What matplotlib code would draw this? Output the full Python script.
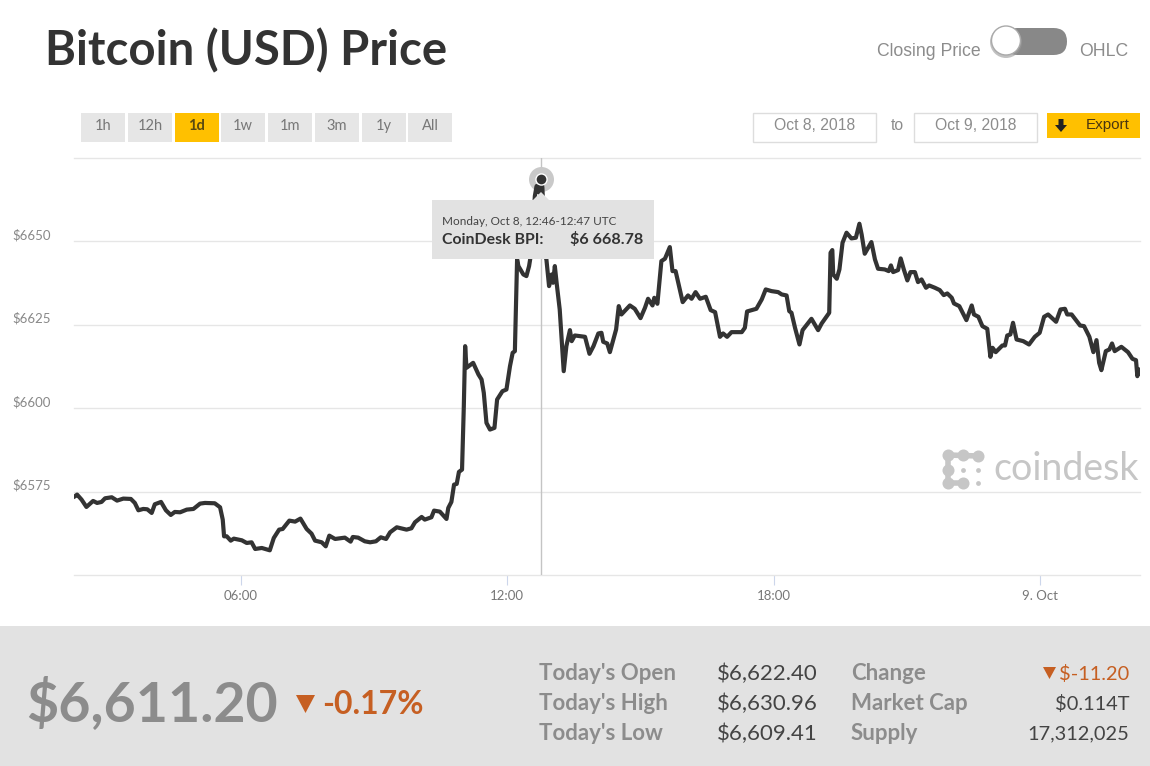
import matplotlib
matplotlib.use("Agg")
import matplotlib.pyplot as plt
from matplotlib.patches import Rectangle, FancyBboxPatch, Polygon, Circle

# hours since Oct 8 00:00 UTC
HOURS = [
    2.26, 2.31, 2.41, 2.52, 2.67, 2.76, 2.86, 2.94, 3.09, 3.21, 3.35, 3.52, 3.61, 3.69, 3.80, 3.89,
    3.99, 4.06, 4.20, 4.31, 4.42, 4.51, 4.63, 4.78, 4.93, 5.08, 5.19, 5.41, 5.53, 5.59, 5.62, 5.68,
    5.77, 5.84, 6.02, 6.13, 6.24, 6.32, 6.47, 6.65, 6.74, 6.86, 6.94, 7.09, 7.22, 7.34, 7.48, 7.59,
    7.67, 7.82, 7.91, 7.99, 8.12, 8.34, 8.47, 8.52, 8.64, 8.79, 8.91, 9.04, 9.15, 9.27, 9.36, 9.51,
    9.73, 9.84, 9.92, 10.07, 10.14, 10.29, 10.35, 10.48, 10.63, 10.67, 10.74, 10.80, 10.86, 10.91,
    10.98, 11.02, 11.05, 11.08, 11.23, 11.35, 11.42, 11.47, 11.53, 11.61, 11.71, 11.77, 11.89, 11.98,
    12.06, 12.12, 12.17, 12.21, 12.22, 12.25, 12.36, 12.43, 12.49, 12.52, 12.58, 12.62, 12.66, 12.72,
    12.76, 12.79, 12.85, 12.88, 12.94, 13.00, 13.03, 13.07, 13.11, 13.18, 13.27, 13.33, 13.41, 13.45,
    13.52, 13.75, 13.85, 13.94, 14.05, 14.12, 14.16, 14.25, 14.31, 14.45, 14.51, 14.57, 14.76, 14.87,
    15.00, 15.10, 15.17, 15.27, 15.31, 15.38, 15.47, 15.55, 15.66, 15.72, 15.79, 15.95, 16.07, 16.15,
    16.24, 16.34, 16.47, 16.58, 16.68, 16.79, 16.86, 16.95, 17.05, 17.28, 17.35, 17.40, 17.61, 17.73,
    17.82, 17.95, 18.10, 18.18, 18.29, 18.35, 18.40, 18.48, 18.58, 18.65, 18.85, 19.00, 19.08, 19.25,
    19.28, 19.32, 19.34, 19.42, 19.48, 19.55, 19.64, 19.75, 19.85, 19.93, 19.98, 20.05, 20.20, 20.28,
    20.35, 20.50, 20.59, 20.64, 20.69, 20.80, 20.86, 20.93, 21.01, 21.08, 21.18, 21.25, 21.33, 21.43,
    21.50, 21.63, 21.74, 21.83, 21.91, 22.01, 22.06, 22.18, 22.34, 22.46, 22.51, 22.61, 22.70, 22.81,
    22.88, 22.93, 23.00, 23.15, 23.21, 23.26, 23.33, 23.39, 23.47, 23.62, 23.75, 23.88, 23.99, 24.09,
    24.18, 24.36, 24.46, 24.56, 24.61, 24.71, 24.90, 24.99, 25.11, 25.20, 25.27, 25.33, 25.38, 25.48,
    25.56, 25.62, 25.68, 25.83, 25.98, 26.08, 26.16, 26.19, 26.23,
]
PRICES = [
    6573.6, 6574.1, 6572.6, 6570.4, 6572.2, 6571.6, 6571.9, 6573.0, 6573.3, 6572.3, 6572.9, 6572.8, 6571.6, 6569.4, 6569.8, 6569.7,
    6568.6, 6571.2, 6571.9, 6569.4, 6568.0, 6568.9, 6568.8, 6569.6, 6569.8, 6571.4, 6571.6, 6571.5, 6570.3, 6566.6, 6561.6, 6561.6,
    6560.3, 6560.9, 6560.4, 6559.6, 6559.8, 6557.8, 6558.1, 6557.4, 6561.1, 6563.6, 6563.8, 6566.3, 6566.0, 6566.9, 6563.8, 6562.4,
    6560.3, 6559.8, 6558.6, 6561.8, 6560.8, 6561.2, 6560.0, 6561.4, 6561.2, 6560.1, 6559.8, 6560.1, 6561.3, 6560.8, 6562.8, 6564.3,
    6563.6, 6564.0, 6565.8, 6567.4, 6566.6, 6567.3, 6569.3, 6569.0, 6566.8, 6570.1, 6571.9, 6577.1, 6577.3, 6580.9,
    6581.6, 6600.6, 6618.6, 6612.1, 6613.6, 6610.1, 6608.6, 6604.6, 6595.6, 6593.6, 6594.1, 6602.6, 6605.1, 6605.6,
    6612.6, 6616.6, 6617.1, 6639.6, 6644.6, 6642.6, 6640.1, 6639.6, 6642.6, 6645.1, 6654.6, 6663.6, 6666.6, 6664.6,
    6668.78, 6666.1, 6645.6, 6644.6, 6636.6, 6640.1, 6637.6, 6642.6, 6637.6, 6629.6, 6611.1, 6618.6, 6623.4, 6620.1,
    6621.8, 6621.4, 6616.3, 6618.6, 6622.4, 6622.6, 6619.9, 6619.4, 6616.8, 6623.6, 6630.6, 6628.1, 6630.8, 6629.8,
    6627.0, 6630.1, 6632.8, 6630.8, 6633.1, 6631.3, 6644.1, 6644.8, 6648.3, 6641.1, 6641.1, 6631.8, 6633.8, 6632.8,
    6634.8, 6632.8, 6633.4, 6629.4, 6628.8, 6621.4, 6622.4, 6621.4, 6622.8, 6622.8, 6624.1, 6629.0, 6629.8, 6632.6,
    6635.6, 6635.1, 6634.8, 6634.1, 6633.8, 6629.1, 6628.6, 6624.1, 6619.1, 6623.4, 6626.8, 6623.4, 6625.4, 6628.6,
    6646.6, 6647.4, 6640.1, 6638.8, 6641.6, 6649.6, 6652.6, 6650.9, 6651.1, 6655.3, 6652.1, 6646.3, 6649.8, 6644.6,
    6641.8, 6641.6, 6641.1, 6642.8, 6640.8, 6641.4, 6644.9, 6641.6, 6638.3, 6640.8, 6640.8, 6637.8, 6638.6, 6636.1,
    6636.8, 6636.1, 6635.4, 6633.9, 6634.4, 6633.1, 6631.4, 6630.6, 6626.4, 6630.8, 6628.1, 6627.4, 6624.6, 6623.8,
    6615.4, 6618.1, 6616.8, 6618.8, 6618.8, 6621.8, 6622.1, 6625.6, 6620.6, 6620.1, 6619.1, 6621.4, 6622.6, 6627.4,
    6628.1, 6625.9, 6629.6, 6629.8, 6628.1, 6628.1, 6624.8, 6624.6, 6621.4, 6616.8, 6620.4, 6613.6, 6611.4, 6617.1,
    6617.6, 6619.4, 6617.1, 6618.4, 6616.8, 6614.8, 6614.4, 6609.6, 6611.6,
]

Y_TICKS = [6550, 6575, 6600, 6625, 6650, 6675]
Y_LABELS = ["", "$6575", "$6600", "$6625", "$6650", ""]
X_TICKS = [6, 12, 18, 24]
X_LABELS = ["06:00", "12:00", "18:00", "9. Oct"]
RANGE_BUTTONS = ["1h", "12h", "1d", "1w", "1m", "3m", "1y", "All"]

PEAK_HOUR = 12.76
PEAK_PRICE = 6668.78

W, H = 1150, 766
SANS = "Lato"
ARIAL = "Liberation Sans"
GRID = "#e6e6e6"
DARK = "#333333"
GREY = "#8c8c8c"
ORANGE = "#c65f22"
YELLOW = "#ffc000"

fig = plt.figure(figsize=(W / 100, H / 100), dpi=100, facecolor="white")

# price chart, placed on the pixel box of the original
ax = fig.add_axes([74 / W, 1 - 575 / H, (1140 - 74) / W, (575 - 158) / H], zorder=2)
ax.patch.set_alpha(0)
ax.set_xlim(2.24, 26.25)
ax.set_ylim(6550, 6675)
for s in ax.spines.values():
    s.set_visible(False)
ax.set_yticks(Y_TICKS, Y_LABELS, ha="left", va="bottom", family=SANS, fontsize=9.5, color="#888888")
ax.set_xticks(X_TICKS, X_LABELS, family=SANS, fontsize=9.5, color="#777777")
ax.tick_params(axis="y", length=0, pad=44)  # pad is in points, 61 px
ax.tick_params(axis="x", length=7, width=0.8, color="#ccd6eb", pad=4)
ax.grid(axis="y", color=GRID, linewidth=1, clip_on=False)
ax.set_axisbelow(True)

ax.axvline(PEAK_HOUR, color="#c4c4c4", linewidth=1, zorder=1)
ax.plot([PEAK_HOUR], [PEAK_PRICE], "o", ms=18, color="#c9c9c9", mec="none", zorder=2, clip_on=False)
ax.plot(HOURS, PRICES, color=DARK, linewidth=3.0, solid_joinstyle="round", zorder=3)
ax.plot([PEAK_HOUR], [PEAK_PRICE], "o", ms=8, color=DARK, mec="white", mew=1, zorder=4)

# everything around the chart is page furniture, drawn in pixel coords
ui = fig.add_axes([0, 0, 1, 1], zorder=3)
ui.set_xlim(0, W)
ui.set_ylim(H, 0)
ui.axis("off")

ui.text(45, 51, "Bitcoin (USD) Price", family=SANS, weight="bold", fontsize=34, color=DARK, va="center")

# closing price / OHLC switch
ui.text(981, 51, "Closing Price", family=ARIAL, fontsize=12.7, color=GREY, ha="right", va="center")
ui.text(1079, 51, "OHLC", family=ARIAL, fontsize=12.7, color=GREY, ha="left", va="center")
ui.add_patch(FancyBboxPatch((1004, 28), 63, 27, boxstyle="round,pad=0,rounding_size=13.5",
                            fc="#888888", ec="none"))
ui.add_patch(Circle((1006, 42), 16, fc="#999999", ec="none", alpha=0.6))
ui.add_patch(Circle((1006, 40.5), 14.5, fc="white", ec="#aaaaaa", lw=1))

# range buttons
btn_left = [81, 128, 174.5, 221, 268, 315, 362, 408]
for label, x in zip(RANGE_BUTTONS, btn_left):
    active = label == "1d"
    ui.add_patch(Rectangle((x, 113), 44, 29, fc=YELLOW if active else "#e6e6e6", ec="none"))
    ui.text(x + 22, 126, label, family=SANS, fontsize=10.5, ha="center", va="center",
            weight="bold" if active else "normal", color="#5a4a10" if active else "#777777")

# date range
for x, label in [(753, "Oct 8, 2018"), (914, "Oct 9, 2018")]:
    ui.add_patch(Rectangle((x, 113), 123, 28.5, fc="white", ec="#dddddd", lw=1))
    ui.text(x + 61.5, 125.5, label, family=ARIAL, fontsize=11.3, color=GREY, ha="center", va="center")
ui.text(897, 126, "to", family=ARIAL, fontsize=11.3, color=GREY, ha="center", va="center")

# export button
ui.add_patch(Rectangle((1047, 113), 93, 24.5, fc=YELLOW, ec="none"))
ui.add_patch(Polygon([(1058.5, 119), (1063.5, 119), (1063.5, 125), (1067, 125), (1061, 132),
                      (1055, 125), (1058.5, 125)], fc="#222222", ec="none"))
ui.text(1108, 125.5, "Export", family=ARIAL, fontsize=11, color="#4a3510", ha="center", va="center")

# tooltip
ui.add_patch(Polygon([(533, 200), (541, 192), (549, 200)], fc="#e2e2e2", ec="none"))
ui.add_patch(Rectangle((432, 200), 222, 58.5, fc="#e2e2e2", ec="none"))
ui.text(442, 221.5, "Monday, Oct 8, 12:46-12:47 UTC", family=SANS, fontsize=8.5, color="#444444", va="center")
ui.text(442, 239.5, "CoinDesk BPI:", family=SANS, weight="bold", fontsize=11.4, color=DARK, va="center")
ui.text(643, 239.5, "$6 668.78", family=SANS, weight="bold", fontsize=11.6, color=DARK, ha="right", va="center")

# coindesk watermark
WM = "#c6c6c6"
ui.text(993, 469, "coindesk", family=SANS, fontsize=27, color=WM, va="center")
icon_big = [(948, 455), (963, 455), (978, 456), (948, 470), (948, 483), (963, 483)]
icon_small = [(963, 470), (978, 470), (978, 483)]
ui.scatter([p[0] for p in icon_big], [p[1] for p in icon_big], s=75, color=WM, linewidths=0)
ui.scatter([p[0] for p in icon_small], [p[1] for p in icon_small], s=12, color=WM, linewidths=0)
ui.plot([948, 978], [455, 456], color=WM, lw=4)
ui.plot([948, 948], [455, 483], color=WM, lw=4)
ui.plot([948, 963], [483, 483], color=WM, lw=4)

# footer band
ui.add_patch(Rectangle((0, 626), W, 140, fc="#e2e2e2", ec="none"))
ui.text(26, 703, "$6,611.20", family=SANS, weight="bold", fontsize=40, color=GREY, va="center")
ui.add_patch(Polygon([(296, 695), (315, 695), (305.5, 713)], fc=ORANGE, ec="none"))
ui.text(322, 704, "-0.17%", family=SANS, weight="bold", fontsize=23, color=ORANGE, va="center")

rows_y = [674, 704, 734]
left_names = ["Today's Open", "Today's High", "Today's Low"]
left_vals = ["$6,622.40", "$6,630.96", "$6,609.41"]
right_names = ["Change", "Market Cap", "Supply"]
right_vals = ["$-11.20", "$0.114T", "17,312,025"]
for i, y in enumerate(rows_y):
    ui.text(539, y, left_names[i], family=SANS, weight="bold", fontsize=16, color=GREY, va="center")
    ui.text(818, y, left_vals[i], family=SANS, fontsize=16, color="#444444", ha="right", va="center")
    ui.text(851, y, right_names[i], family=SANS, weight="bold", fontsize=16, color=GREY, va="center")
    ui.text(1129, y, right_vals[i], family=SANS, fontsize=14.4, ha="right", va="center",
            color=ORANGE if i == 0 else "#444444")
ui.add_patch(Polygon([(1043, 667), (1056, 667), (1049.5, 679)], fc=ORANGE, ec="none"))

fig.savefig("out.png", dpi=100)
